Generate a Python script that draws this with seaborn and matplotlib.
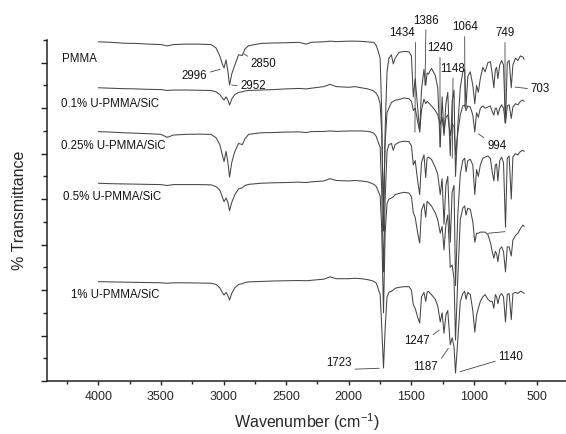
import numpy as np
import pandas as pd
import matplotlib
matplotlib.use("Agg")
import matplotlib.pyplot as plt
import seaborn as sns
from matplotlib.ticker import MultipleLocator

# wavenumber grid (cm-1)
wavenumber = [
    4000, 3900, 3800, 3700, 3600, 3500, 3450, 3400, 3300, 3200,
    3100, 3060, 3030, 3010, 2996, 2980, 2965, 2952, 2935, 2910,
    2880, 2850, 2830, 2800, 2700, 2600, 2500, 2400, 2340, 2300,
    2200, 2150, 2100, 2000, 1950, 1900, 1850, 1820,
    1800, 1780, 1765, 1750, 1738, 1723, 1710, 1695, 1680, 1660,
    1645, 1630, 1600, 1560, 1520, 1500, 1485, 1470, 1450, 1434,
    1420, 1400, 1386, 1375, 1365, 1340, 1310, 1290, 1270, 1255,
    1240, 1225, 1210, 1190, 1175, 1160, 1148, 1130, 1110, 1090,
    1075, 1064, 1050, 1030, 1010, 994, 980, 966, 950, 930,
    912, 890, 870, 855, 842, 830, 820, 810, 795, 780,
    765, 749, 735, 720, 703, 690, 670, 650, 630, 610,
    600,
]

# stacked transmittance traces (arbitrary offset units)
pmma = [
    14.92, 14.90, 14.86, 14.85, 14.82, 14.80, 14.74, 14.80, 14.82, 14.82,
    14.80, 14.65, 14.30, 13.95, 13.77, 14.12, 13.60, 13.02, 13.50, 13.90,
    14.35, 14.32, 14.60, 14.75, 14.85, 14.87, 14.88, 14.90, 14.82, 14.90,
    14.92, 14.95, 14.93, 14.95, 14.95, 14.94, 14.92, 14.90,
    14.90, 14.75, 14.50, 14.20, 12.00, 6.60, 11.00, 13.60, 14.20, 14.35,
    13.95, 14.20, 14.45, 14.50, 14.48, 14.30, 12.50, 13.30, 12.00, 10.95,
    12.80, 13.70, 13.00, 13.55, 13.50, 13.75, 13.45, 12.90, 10.30, 12.50,
    10.80, 12.20, 12.70, 9.90, 12.30, 12.80, 9.00, 11.20, 12.90, 13.60,
    13.70, 12.05, 13.40, 13.60, 13.00, 12.20, 13.00, 12.70, 13.30, 13.80,
    13.60, 14.00, 14.05, 13.50, 12.90, 13.70, 13.80, 13.30, 13.90, 14.10,
    13.90, 11.35, 14.00, 14.10, 12.90, 13.90, 14.20, 14.10, 14.30, 14.25,
    14.15,
]
u01 = [
    12.90, 12.88, 12.86, 12.85, 12.83, 12.82, 12.78, 12.80, 12.80, 12.79,
    12.78, 12.72, 12.60, 12.45, 12.36, 12.50, 12.35, 12.14, 12.40, 12.60,
    12.70, 12.72, 12.76, 12.78, 12.80, 12.82, 12.85, 12.87, 12.85, 12.88,
    12.95, 13.05, 12.95, 12.92, 12.95, 12.90, 12.85, 12.80,
    12.75, 12.65, 12.50, 12.20, 11.00, 7.50, 10.50, 11.80, 12.00, 12.25,
    12.30, 12.35, 12.38, 12.45, 12.42, 12.30, 11.90, 12.00, 11.40, 11.00,
    11.90, 12.40, 12.20, 12.30, 12.25, 12.10, 11.90, 11.70, 11.30, 11.60,
    10.90, 11.60, 11.70, 10.80, 11.30, 11.20, 9.95, 10.90, 11.70, 12.10,
    12.15, 11.90, 12.10, 12.05, 11.70, 10.95, 11.80, 11.60, 12.00, 12.10,
    12.00, 12.05, 12.10, 11.85, 11.70, 12.00, 12.00, 11.70, 12.00, 12.15,
    12.00, 11.35, 12.10, 12.15, 11.55, 12.05, 12.20, 12.15, 12.30, 12.36,
    12.30,
]
u025 = [
    10.97, 10.95, 10.92, 10.90, 10.88, 10.85, 10.72, 10.82, 10.85, 10.86,
    10.85, 10.70, 10.40, 9.95, 9.65, 10.10, 9.60, 8.97, 9.60, 10.10,
    10.45, 10.40, 10.65, 10.85, 10.92, 10.93, 10.95, 10.96, 10.93, 10.97,
    10.98, 11.00, 10.98, 11.00, 11.00, 11.00, 10.98, 10.95,
    10.90, 10.75, 10.50, 10.30, 8.50, 4.80, 8.00, 10.10, 10.40, 10.45,
    10.15, 10.40, 10.50, 10.55, 10.53, 10.35, 9.50, 9.70, 8.80, 8.20,
    9.60, 9.95, 8.95, 9.80, 9.85, 9.75, 9.40, 9.10, 8.20, 8.90,
    6.90, 8.60, 9.00, 6.10, 8.30, 8.60, 4.20, 7.30, 9.10, 9.70,
    9.80, 9.20, 9.70, 9.75, 9.50, 8.20, 9.30, 9.00, 9.50, 9.80,
    9.85, 9.90, 9.80, 9.20, 8.80, 9.50, 9.55, 8.80, 9.70, 9.85,
    9.60, 6.77, 9.80, 9.90, 8.00, 9.85, 10.00, 9.95, 10.10, 10.15,
    10.10,
]
u05 = [
    8.70, 8.68, 8.67, 8.66, 8.65, 8.64, 8.60, 8.64, 8.64, 8.64,
    8.63, 8.55, 8.40, 8.10, 7.89, 8.05, 7.85, 7.49, 7.85, 8.20,
    8.45, 8.50, 8.60, 8.65, 8.70, 8.72, 8.73, 8.75, 8.73, 8.76,
    8.80, 8.90, 8.82, 8.80, 8.82, 8.80, 8.76, 8.70,
    8.65, 8.55, 8.35, 8.15, 6.80, 3.00, 6.50, 7.80, 8.00, 8.05,
    8.10, 8.20, 8.25, 8.30, 8.27, 8.10, 7.40, 7.20, 6.50, 6.07,
    7.50, 7.80, 7.20, 7.90, 7.85, 7.70, 7.40, 7.10, 6.50, 6.80,
    5.76, 6.90, 7.30, 5.00, 5.10, 4.50, 1.80, 4.50, 7.10, 7.60,
    7.70, 7.30, 7.60, 7.55, 7.00, 6.10, 6.50, 6.50, 6.55, 6.55,
    6.55, 6.45, 6.10, 5.70, 5.40, 5.70, 5.60, 5.25, 5.80, 5.90,
    5.70, 4.80, 5.90, 5.90, 5.50, 6.20, 6.40, 6.50, 6.70, 6.86,
    6.80,
]
u1 = [
    4.37, 4.36, 4.35, 4.34, 4.33, 4.32, 4.30, 4.32, 4.32, 4.31,
    4.30, 4.25, 4.10, 3.90, 3.78, 3.90, 3.75, 3.56, 3.85, 4.10,
    4.25, 4.28, 4.33, 4.36, 4.38, 4.40, 4.41, 4.42, 4.41, 4.43,
    4.48, 4.58, 4.50, 4.50, 4.52, 4.50, 4.46, 4.42,
    4.38, 4.30, 4.05, 3.80, 2.50, 0.57, 2.30, 3.70, 3.90, 3.95,
    4.00, 4.08, 4.12, 4.15, 4.15, 4.00, 3.35, 3.20, 2.80, 2.55,
    3.70, 3.90, 3.50, 3.90, 3.95, 3.80, 3.60, 3.30, 2.60, 3.00,
    2.10, 2.90, 3.10, 1.60, 1.90, 1.50, 0.35, 1.80, 3.50, 3.85,
    3.95, 3.60, 3.90, 3.80, 3.10, 2.15, 2.90, 3.20, 3.50, 3.70,
    3.80, 3.60, 3.50, 3.50, 3.20, 3.80, 3.70, 3.40, 3.75, 3.85,
    3.70, 2.60, 3.80, 3.85, 2.70, 3.85, 3.90, 3.85, 3.95, 3.90,
    3.85,
]

samples = ["PMMA", "0.1% U-PMMA/SiC", "0.25% U-PMMA/SiC", "0.5% U-PMMA/SiC", "1% U-PMMA/SiC"]
traces = [pmma, u01, u025, u05, u1]

df = pd.concat([pd.DataFrame({"wavenumber": wavenumber, "T": t, "sample": s})
                for s, t in zip(samples, traces)], ignore_index=True)

sns.set_style("ticks")
plt.rcParams['font.family'] = ['Liberation Sans', 'DejaVu Sans']
plt.rcParams['mathtext.default'] = 'regular'

fig = plt.figure(figsize=(5.66, 4.34), dpi=100)
ax = fig.add_axes([0.0836, 0.1221, 0.9164, 0.7857])

line_col = "#454545"
sns.lineplot(data=df, x="wavenumber", y="T", hue="sample", units="sample",
             palette=[line_col] * 5, estimator=None, sort=False,
             linewidth=0.75, legend=False, ax=ax)

ax.set_xlim(4407, 266)
ax.set_ylim(0, 15)
ax.xaxis.set_major_locator(MultipleLocator(500))
ax.xaxis.set_minor_locator(MultipleLocator(250))
ax.yaxis.set_major_locator(MultipleLocator(2))
ax.yaxis.set_minor_locator(MultipleLocator(1))
ax.tick_params(axis="both", which="both", direction="out", color="#222222", width=1.0)
ax.tick_params(axis="x", which="major", length=3, labelsize=9, pad=4)
ax.tick_params(axis="x", which="minor", length=2.5)
ax.tick_params(axis="y", which="major", length=4, labelleft=False)
ax.tick_params(axis="y", which="minor", length=3)
for sp in ["top", "right"]:
    ax.spines[sp].set_visible(False)
for sp in ["left", "bottom"]:
    ax.spines[sp].set_linewidth(1.1)
    ax.spines[sp].set_color("#222222")

ax.set_xlabel("Wavenumber (cm$^{-1}$)", fontsize=11.5, labelpad=6)
ax.set_ylabel("% Transmittance", fontsize=11.5, labelpad=8)

# sample names
name_pos = [(4292, 14.15), (4300, 12.2), (4300, 10.34), (4279, 8.11), (4218, 3.78)]
for s, (x, y) in zip(samples, name_pos):
    ax.text(x, y, s, ha="left", va="center", fontsize=8.3, color="#111111")

# peak labels with leader lines
peaks = [
    ("2996", (3028, 13.71), (3234, 13.42), (1, 0.75)),
    ("2952", (2935, 13.02), (2763, 12.98), (0, 0.5)),
    ("2850", (2837, 14.39), (2679, 13.93), (0, 1)),
    ("1434", (1472, 10.95), (1571, 15.30), (1, 0)),
    ("1386", (1392, 13.02), (1384, 15.85), (0.5, 0)),
    ("1240", (1272, 10.29), (1272, 14.64), (0.5, 0)),
    ("1148", (1174, 9.80), (1168, 13.73), (0.5, 0)),
    ("1064", (1073, 12.05), (1075, 15.56), (0.5, 0)),
    ("749", (753, 11.35), (753, 15.30), (0.5, 0)),
    ("703", (673, 12.93), (471, 12.85), (0, 0.5)),
    ("994", (966, 10.87), (819, 10.35), (0, 1)),
    ("1247", (1278, 2.24), (1456, 1.77), (1, 0.8)),
    ("1187", (1206, 1.44), (1384, 0.63), (1, 0.8)),
    ("1140", (1112, 0.41), (705, 1.07), (0, 0.2)),
    ("1723", (1757, 0.56), (2078, 0.78), (1, 0)),
]
for lab, xy, xyt, rp in peaks:
    ax.annotate(lab, xy=xy, xytext=xyt, ha="center", va="center", fontsize=8.3,
                color="#111111", annotation_clip=False,
                arrowprops=dict(arrowstyle="-", color="#444444", lw=0.6,
                                shrinkA=0, shrinkB=0, relpos=rp))
ax.annotate("", xy=(753, 6.57), xytext=(886, 6.5),
            arrowprops=dict(arrowstyle="-", color="#444444", lw=0.6, shrinkA=0, shrinkB=0))

fig.savefig("out.png", dpi=100)
